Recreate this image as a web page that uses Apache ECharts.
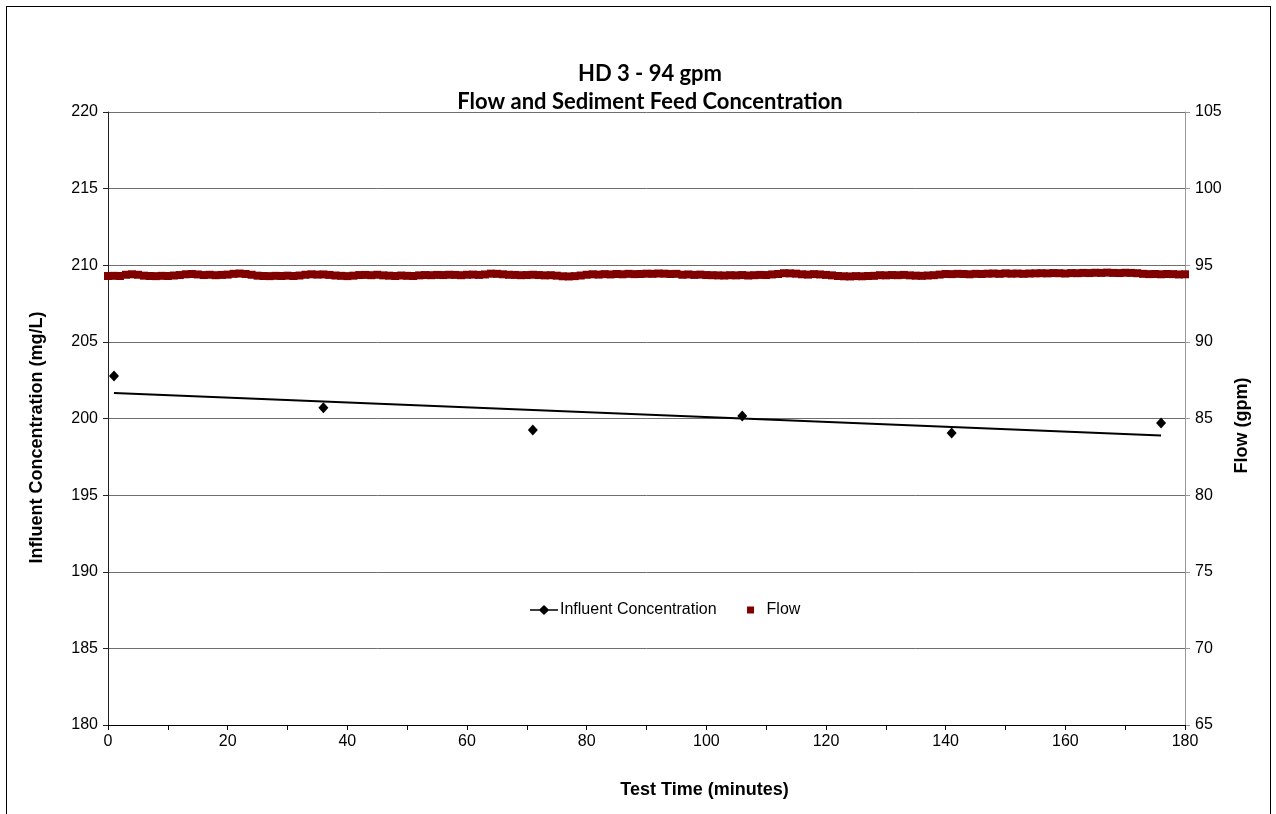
<!DOCTYPE html>
<html>
<head>
<meta charset="utf-8">
<script src="https://cdn.jsdelivr.net/npm/echarts@6/dist/echarts.min.js"></script>
<style>
html,body{margin:0;padding:0;background:#fff;}
#frame{position:absolute;left:6px;top:6px;width:1265px;height:820px;border:1.5px solid #000;box-sizing:border-box;}
#chart{position:absolute;left:0;top:0;width:1276px;height:814px;}
</style>
</head>
<body>
<div id="frame"></div>
<div id="chart"></div>
<script>
// Influent concentration samples (minutes, mg/L)
const concTime = [1, 36, 71, 106, 141, 176];
const concValue = [202.77, 200.70, 199.25, 200.16, 199.05, 199.71];
// Linear trend line end points (minutes, mg/L)
const trendTime = [1, 176];
const trendValue = [201.66, 198.89];
// Flow readings, one per minute from 0 to 180 (gpm)
const flowStartMinute = 0;
const flowStepMinutes = 1;
const flowValue = [
  94.30, 94.31, 94.30,
  94.38, 94.41, 94.38,
  94.32, 94.30, 94.29, 94.31, 94.30, 94.33, 94.36,
  94.41, 94.43, 94.40,
  94.36, 94.38, 94.35, 94.37, 94.39,
  94.44, 94.46, 94.43,
  94.38,
  94.32, 94.30, 94.29, 94.31, 94.30, 94.32, 94.30, 94.33,
  94.38, 94.41, 94.39, 94.40, 94.37,
  94.33, 94.31, 94.29, 94.32,
  94.36, 94.37, 94.35, 94.38,
  94.34, 94.32, 94.30, 94.33, 94.31, 94.30, 94.34, 94.36, 94.35,
  94.37, 94.36, 94.38, 94.37, 94.35, 94.38, 94.39, 94.37, 94.40,
  94.45, 94.44, 94.41, 94.38,
  94.37, 94.35, 94.36, 94.38, 94.36, 94.34, 94.35, 94.32,
  94.28, 94.27, 94.29, 94.33,
  94.38, 94.41, 94.39, 94.42, 94.40, 94.43, 94.41, 94.44, 94.42, 94.43,
  94.45, 94.44, 94.46, 94.45, 94.43, 94.44,
  94.38, 94.40, 94.37, 94.39, 94.36, 94.35,
  94.34, 94.33, 94.35, 94.34, 94.36, 94.33, 94.35, 94.37, 94.36, 94.40, 94.43,
  94.48, 94.47, 94.45,
  94.41, 94.39, 94.42, 94.40, 94.37, 94.34,
  94.30, 94.28, 94.27, 94.29, 94.28, 94.30, 94.31,
  94.35, 94.34, 94.36, 94.35, 94.37, 94.34,
  94.32, 94.31, 94.33, 94.35, 94.39,
  94.43, 94.42, 94.44, 94.43, 94.41, 94.44, 94.43, 94.45,
  94.46, 94.44, 94.47, 94.45, 94.46, 94.44, 94.46, 94.47,
  94.48, 94.47, 94.49, 94.48, 94.46, 94.49, 94.48,
  94.50, 94.49, 94.51, 94.50, 94.52, 94.50, 94.49, 94.51, 94.50, 94.48,
  94.44, 94.42, 94.43, 94.41, 94.43, 94.42, 94.40, 94.41
];
const titleLines = ['HD 3 - 94 gpm', 'Flow and Sediment Feed Concentration'];
const xAxisName = 'Test Time (minutes)';
const leftAxisName = 'Influent Concentration (mg/L)';
const rightAxisName = 'Flow (gpm)';
const seriesNames = ['Influent Concentration', 'Flow'];

const concData = concTime.map((t, i) => [t, concValue[i]]);
const trendData = trendTime.map((t, i) => [t, trendValue[i]]);
const flowData = flowValue.map((v, i) => [flowStartMinute + i * flowStepMinutes, v]);

const FONT = '"Liberation Sans", Arial, sans-serif';
const chart = echarts.init(document.getElementById('chart'), null, {renderer: 'canvas'});
chart.setOption({
  animation: false,
  backgroundColor: 'transparent',
  title: {
    text: titleLines.join('\n'),
    left: 645,
    top: 55,
    textAlign: 'center',
    textStyle: {fontFamily: 'Lato, "Open Sans", sans-serif', fontWeight: 'bold', fontSize: 22, color: '#000', lineHeight: 28}
  },
  grid: {left: 108, right: 91, top: 112, bottom: 89, containLabel: false},
  legend: {
    left: 525, top: 597,
    itemGap: 20,
    itemWidth: 28, itemHeight: 10,
    textStyle: {fontFamily: FONT, fontSize: 16, color: '#000', padding: [0, 0, 0, -3]},
    data: [
      {name: seriesNames[0], icon: 'path://M0,4.3L9.6,4.3L14,0L18.4,4.3L28,4.3L28,5.7L18.4,5.7L14,10L9.6,5.7L0,5.7Z', itemStyle: {color: '#000', opacity: 1}},
      {name: seriesNames[1], icon: 'path://M0,0M28,10M10.5,1.5L17.5,1.5L17.5,8.5L10.5,8.5Z', itemStyle: {color: '#800000', opacity: 1}}
    ]
  },
  xAxis: {
    type: 'value', min: 0, max: 180, interval: 20,
    name: xAxisName, nameLocation: 'middle', nameGap: 56,
    nameTextStyle: {fontFamily: FONT, fontWeight: 'bold', fontSize: 18, color: '#000', padding: [0, 0, 0, 116]},
    axisLine: {show: true, onZero: false, lineStyle: {color: '#000', width: 1}},
    axisTick: {show: true, length: 5, lineStyle: {color: '#000'}},
    minorTick: {show: true, splitNumber: 2, length: 5, lineStyle: {color: '#000'}},
    axisLabel: {fontFamily: FONT, fontSize: 16, color: '#000', margin: 9},
    splitLine: {show: false}
  },
  yAxis: [
    {
      type: 'value', min: 180, max: 220, interval: 5, position: 'left',
      name: leftAxisName, nameLocation: 'middle', nameGap: 62, nameRotate: 90,
      nameTextStyle: {fontFamily: FONT, fontWeight: 'bold', fontSize: 18, color: '#000', padding: [0, 38, 0, 0]},
      axisLine: {show: true, lineStyle: {color: '#222', width: 1}},
      axisTick: {show: true, length: 5, lineStyle: {color: '#222'}},
      axisLabel: {fontFamily: FONT, fontSize: 16, color: '#000', margin: 10},
      splitLine: {show: true, lineStyle: {color: '#6e6e6e', width: 1}}
    },
    {
      type: 'value', min: 65, max: 105, interval: 5, position: 'right',
      name: rightAxisName, nameLocation: 'middle', nameGap: 43, nameRotate: 90,
      nameTextStyle: {fontFamily: FONT, fontWeight: 'bold', fontSize: 18, color: '#000', padding: [0, 14, 0, 0]},
      axisLine: {show: true, lineStyle: {color: '#999', width: 1}},
      axisTick: {show: true, length: 5, lineStyle: {color: '#999'}},
      axisLabel: {fontFamily: FONT, fontSize: 16, color: '#000', margin: 10},
      splitLine: {show: false}
    }
  ],
  series: [
    {
      name: seriesNames[1], type: 'scatter', yAxisIndex: 1, data: flowData,
      symbol: 'rect', symbolSize: 8, itemStyle: {color: '#800000', opacity: 1}, z: 2
    },
    {
      name: 'trend', type: 'line', yAxisIndex: 0, data: trendData,
      showSymbol: false, symbol: 'none', lineStyle: {color: '#000', width: 2}, z: 3, silent: true
    },
    {
      name: seriesNames[0], type: 'scatter', yAxisIndex: 0, data: concData,
      symbol: 'diamond', symbolSize: [10, 11], itemStyle: {color: '#000', opacity: 1}, z: 4
    }
  ]
});
</script>
</body>
</html>
